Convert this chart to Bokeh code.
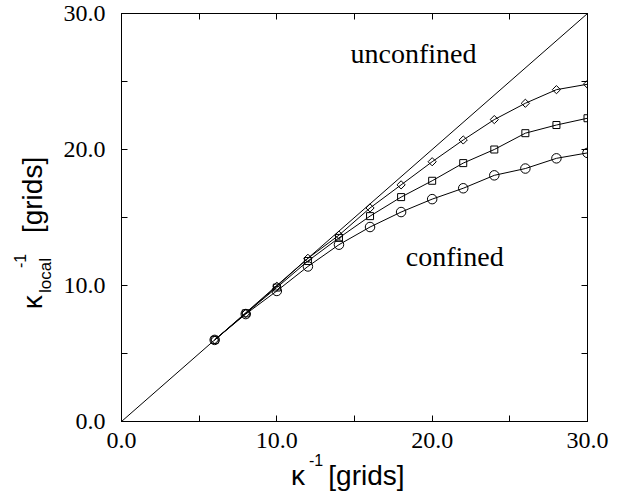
import math
from bokeh.plotting import figure
from bokeh.models import (Range1d, FixedTicker, LinearAxis, Label,
                          PrintfTickFormatter)
from bokeh.embed import file_html
from bokeh.resources import INLINE

# ---- data ----
kappa_inv = [6, 8, 10, 12, 14, 16, 18, 20, 22, 24, 26, 28, 30]
diamond_vals = [6.0, 7.95, 9.95, 12.0, 13.7, 15.7, 17.4, 19.1, 20.7, 22.2, 23.4, 24.4, 24.8]
square_vals = [6.0, 7.95, 9.85, 11.8, 13.5, 15.1, 16.5, 17.7, 19.0, 20.0, 21.2, 21.8, 22.3]
circle_vals = [6.0, 7.9, 9.6, 11.4, 13.0, 14.3, 15.4, 16.35, 17.15, 18.1, 18.6, 19.35, 19.75]
diag_x = [0.0, 30.0]
diag_y = [0.0, 30.0]
major_ticks = [0, 10, 20, 30]
minor_ticks = [5, 15, 25]

SERIF = "Liberation Serif"
SANS = "Liberation Sans"
NB = "\u00a0"

p = figure(width=623, height=491, output_backend="svg", toolbar_location=None,
           x_range=Range1d(0, 30), y_range=Range1d(0, 30),
           min_border_left=121, min_border_right=36,
           min_border_top=13, min_border_bottom=70)
p.xgrid.visible = False
p.ygrid.visible = False
p.outline_line_color = "black"
p.outline_line_width = 1
p.background_fill_color = "white"
p.border_fill_color = "white"

ticker = FixedTicker(ticks=major_ticks, minor_ticks=minor_ticks)

for ax in (p.xaxis[0], p.yaxis[0]):
    ax.ticker = ticker
    ax.formatter = PrintfTickFormatter(format="%.1f")
    ax.major_label_text_font = SERIF
    ax.major_label_text_font_size = "24px"
    ax.major_label_text_color = "black"
    ax.axis_line_color = "black"
    ax.major_tick_in = 6
    ax.major_tick_out = 0
    ax.minor_tick_in = 6
    ax.minor_tick_out = 0
    ax.major_tick_line_color = "black"
    ax.minor_tick_line_color = "black"
    ax.axis_label_text_font = SANS
    ax.axis_label_text_font_style = "normal"
    ax.axis_label_text_font_size = "28px"
    ax.axis_label_text_color = "black"

p.xaxis[0].major_label_standoff = 11
p.yaxis[0].major_label_standoff = 16
p.yaxis[0].axis_label = "κ" + NB * 8 + "[grids]" + NB * 4
p.yaxis[0].axis_label_standoff = 13

for loc in ("above", "right"):
    ax = LinearAxis(ticker=ticker, major_label_text_font_size="0px",
                    major_tick_in=6, major_tick_out=0,
                    minor_tick_in=6, minor_tick_out=0,
                    axis_line_color="black",
                    major_tick_line_color="black",
                    minor_tick_line_color="black",
                    major_label_standoff=0)
    p.add_layout(ax, loc)

# diagonal
p.line(diag_x, diag_y, line_color="black", line_width=1)

# series
p.line(kappa_inv, diamond_vals, line_color="black", line_width=1)
p.scatter(kappa_inv, diamond_vals, marker="square", angle=math.pi / 4, size=5.8,
          fill_color=None, line_color="black", line_width=1)
p.line(kappa_inv, square_vals, line_color="black", line_width=1)
p.scatter(kappa_inv, square_vals, marker="square", size=7,
          fill_color=None, line_color="black", line_width=1)
p.line(kappa_inv, circle_vals, line_color="black", line_width=1)
p.scatter(kappa_inv, circle_vals, marker="circle", size=9.5,
          fill_color=None, line_color="black", line_width=1)

# in-plot annotations
p.add_layout(Label(x=18.8, y=27.05, text="unconfined", text_align="center",
                   text_baseline="alphabetic", text_font=SERIF,
                   text_font_size="28px", text_color="black"))
p.add_layout(Label(x=18.3, y=12.15, text="confined", text_align="left",
                   text_baseline="alphabetic", text_font=SERIF,
                   text_font_size="28px", text_color="black"))

# axis-title pieces (canvas units, placed in side panels so they are not clipped)
def clabel(panel, x, y, text, size, angle=0.0):
    p.add_layout(Label(x=x, y=y, x_units="canvas", y_units="canvas", text=text,
                       text_align="left", text_baseline="alphabetic",
                       text_font=SANS, text_font_size=size, text_color="black",
                       angle=angle), panel)

clabel("below", 290.5, 475, "κ" + NB * 3 + "[grids]", "28px")
clabel("right", 308.5, 459.3, "-1", "16px")
clabel("right", 44.7, 292.5, "local", "17px", math.pi / 2)
clabel("left", 19.3, 267.5, "-1", "16px", math.pi / 2)

open("out.html", "w").write(file_html(p, INLINE))
